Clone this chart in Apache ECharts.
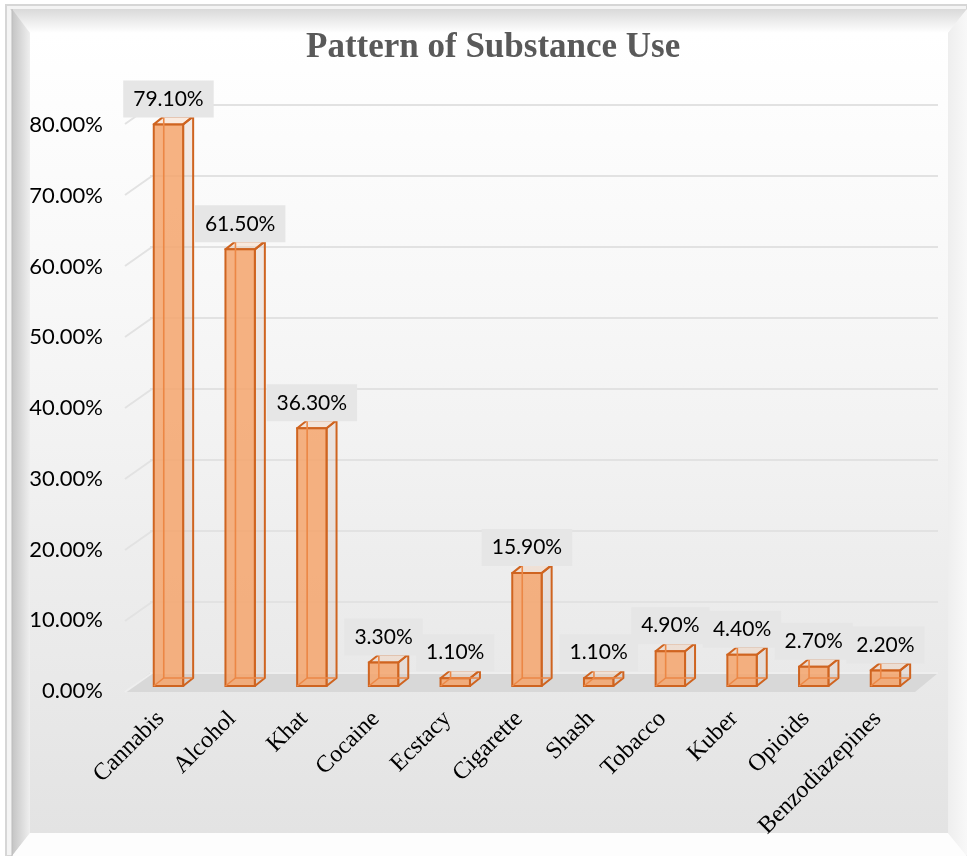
<!DOCTYPE html>
<html>
<head>
<meta charset="utf-8">
<script src="https://cdn.jsdelivr.net/npm/echarts@6/dist/echarts.min.js"></script>
<style>
  html, body { margin: 0; padding: 0; background: #ffffff; }
  #chart { width: 967px; height: 856px; }
</style>
</head>
<body>
<div id="chart"></div>
<script>
// Substances and share of respondents reporting use (%)
const categories = ['Cannabis', 'Alcohol', 'Khat', 'Cocaine', 'Ecstacy', 'Cigarette', 'Shash', 'Tobacco', 'Kuber', 'Opioids', 'Benzodiazepines'];
const usage = [79.1, 61.5, 36.3, 3.3, 1.1, 15.9, 1.1, 4.9, 4.4, 2.7, 2.2];
// Value-axis ticks (%)
const valueTicks = [0, 10, 20, 30, 40, 50, 60, 70, 80];

const chart = echarts.init(document.getElementById('chart'), null, { renderer: 'canvas' });

const W = 967, H = 856;
const DEPTH_X = 10, DEPTH_Y = -8;      // box depth
const FLOOR_X = -25, FLOOR_Y = 19;     // back wall -> front edge of floor
const EDGE = '#cf6420';

// Picture-frame style bevels and the softly shaded chart face
const frame = [
  { type: 'rect', z: -100, shape: { x: 0, y: 0, width: W, height: H }, style: { fill: '#ffffff' } },
  { type: 'rect', z: -99, shape: { x: 6, y: 5, width: W - 6, height: H - 5 }, style: { fill: '#f4f4f4', stroke: '#d6d6d6', lineWidth: 2 } },
  { type: 'polygon', z: -98, shape: { points: [[10, 9], [W, 9], [948, 33], [30, 33]] },
    style: { fill: new echarts.graphic.LinearGradient(0, 0, 0, 1, [{ offset: 0, color: '#d9d9d9' }, { offset: 1, color: '#ffffff' }]) } },
  { type: 'polygon', z: -98, shape: { points: [[12, 9], [30, 33], [30, 833], [12, H]] },
    style: { fill: new echarts.graphic.LinearGradient(0, 0, 1, 0, [{ offset: 0, color: '#c4c4c4' }, { offset: 1, color: '#efefef' }]) } },
  { type: 'polygon', z: -98, shape: { points: [[12, H], [30, 833], [948, 833], [W, H]] }, style: { fill: '#fdfdfd' } },
  { type: 'polygon', z: -98, shape: { points: [[W, 9], [948, 33], [948, 833], [W, H]] },
    style: { fill: new echarts.graphic.LinearGradient(0, 0, 1, 0, [{ offset: 0, color: '#eeeeee' }, { offset: 1, color: '#f8f8f8' }]) } },
  { type: 'line', z: -97, shape: { x1: 12, y1: 9, x2: 12, y2: H }, style: { stroke: '#bdbdbd', lineWidth: 1 } },
  { type: 'rect', z: -97, shape: { x: 30, y: 33, width: 918, height: 800 },
    style: { fill: new echarts.graphic.LinearGradient(0, 0, 0, 1, [{ offset: 0, color: '#ffffff' }, { offset: 0.35, color: '#f7f7f7' }, { offset: 1, color: '#e3e3e3' }]) } }
];

const pct = v => v.toFixed(2) + '%';

const option = {
  animation: false,
  backgroundColor: 'transparent',
  graphic: { elements: frame },
  title: {
    text: 'Pattern of Substance Use',
    left: 306,
    top: 30,
    padding: 0,
    textStyle: { fontFamily: 'Liberation Serif', fontWeight: 'bold', fontSize: 35, color: '#595959' }
  },
  grid: [
    // front plane: value labels
    { left: 125, right: W - 915, top: 125, bottom: H - 691 },
    // back wall: gridlines
    { left: 150, right: W - 938, top: 105, bottom: H - 673 },
    // bar fronts
    { left: 132.6, right: 45.7, top: 118, bottom: H - 686 }
  ],
  xAxis: [
    { gridIndex: 0, type: 'value', min: 0, max: 1, show: false },
    { gridIndex: 1, type: 'value', min: 0, max: 1, show: false },
    {
      gridIndex: 2, type: 'category', data: categories,
      axisLine: { show: false }, axisTick: { show: false },
      axisLabel: { interval: 0, rotate: 45, margin: 37, verticalAlign: 'bottom', lineHeight: 22, fontFamily: 'Liberation Serif', fontSize: 24, color: '#000000' }
    }
  ],
  yAxis: [
    {
      gridIndex: 0, type: 'value', min: 0, max: 80, interval: 10,
      axisLine: { show: false }, axisTick: { show: false }, splitLine: { show: false },
      axisLabel: { margin: 22, fontFamily: 'Lato', fontSize: 22, color: '#000000', formatter: pct }
    },
    {
      gridIndex: 1, type: 'value', min: 0, max: 80, interval: 10,
      axisLine: { show: false }, axisTick: { show: false }, axisLabel: { show: false },
      splitLine: { lineStyle: { color: '#e2e2e2', width: 2 } }
    },
    { gridIndex: 2, type: 'value', min: 0, max: 80, show: false }
  ],
  series: [
    {
      // floor and the receding gridline ends on the left side wall
      type: 'custom', xAxisIndex: 1, yAxisIndex: 1, silent: true, z: 1,
      data: valueTicks.map(v => [0, v]),
      renderItem: function (params, api) {
        const v = api.value(1);
        const bl = api.coord([0, v]);
        const children = [];
        if (v === 0) {
          const br = api.coord([1, 0]);
          children.push({
            type: 'polygon',
            shape: { points: [bl, br, [br[0] + FLOOR_X + 2, br[1] + FLOOR_Y], [bl[0] + FLOOR_X, bl[1] + FLOOR_Y]] },
            style: { fill: '#d8d8d8' }
          });
          children.push({ type: 'line', shape: { x1: bl[0], y1: bl[1], x2: br[0], y2: br[1] }, style: { stroke: '#eeeeee', lineWidth: 2 } });
        }
        children.push({
          type: 'line',
          shape: { x1: bl[0] + 2, y1: bl[1], x2: bl[0] + FLOOR_X, y2: bl[1] + FLOOR_Y },
          style: { stroke: v === 0 ? '#eeeeee' : '#e2e2e2', lineWidth: 2 }
        });
        return { type: 'group', children: children };
      }
    },
    {
      // see-through 3D boxes
      type: 'custom', xAxisIndex: 2, yAxisIndex: 2, silent: true, z: 3,
      data: usage.map((v, i) => [i, v]),
      renderItem: function (params, api) {
        const base = api.coord([api.value(0), 0]);
        const top = api.coord([api.value(0), api.value(1)]);
        const w = api.size([1, 0])[0] * 0.41;
        const x0 = base[0] - w / 2, x1 = base[0] + w / 2;
        const yb = base[1], yt = top[1];
        const dx = DEPTH_X, dy = DEPTH_Y;
        return {
          type: 'group',
          children: [
            { type: 'polygon', shape: { points: [[x1, yt], [x1 + dx, yt + dy], [x1 + dx, yb + dy], [x1, yb]] },
              style: { fill: 'rgba(215,188,172,0.28)', stroke: EDGE, lineWidth: 2, lineJoin: 'round' } },
            { type: 'polygon', shape: { points: [[x0, yt], [x1, yt], [x1 + dx, yt + dy], [x0 + dx, yt + dy]] },
              style: { fill: 'rgba(246,196,160,0.3)', stroke: EDGE, lineWidth: 2, lineJoin: 'round' } },
            { type: 'rect', shape: { x: x0, y: yt, width: w, height: yb - yt },
              style: { fill: 'rgba(245,165,108,0.85)', stroke: EDGE, lineWidth: 2 } },
            { type: 'polyline', shape: { points: [[x0 + dx, yt + dy + 1], [x0 + dx, yb + dy], [x1 + dx - 1, yb + dy]] },
              style: { fill: null, stroke: '#ec8745', lineWidth: 1.6 } },
            { type: 'line', shape: { x1: x0, y1: yb, x2: x0 + dx, y2: yb + dy },
              style: { stroke: '#ec8745', lineWidth: 1.6 } }
          ]
        };
      }
    },
    {
      // value labels above each box
      type: 'bar', xAxisIndex: 2, yAxisIndex: 2, silent: true, z: 5,
      barWidth: '41%',
      data: usage,
      itemStyle: { color: 'transparent' },
      label: {
        show: true, position: 'top', distance: 7,
        formatter: p => pct(p.value),
        fontFamily: 'Lato', fontSize: 21, lineHeight: 25, color: '#000000',
        backgroundColor: '#e6e6e6', padding: [6, 10]
      }
    }
  ]
};

chart.setOption(option);
</script>
</body>
</html>
